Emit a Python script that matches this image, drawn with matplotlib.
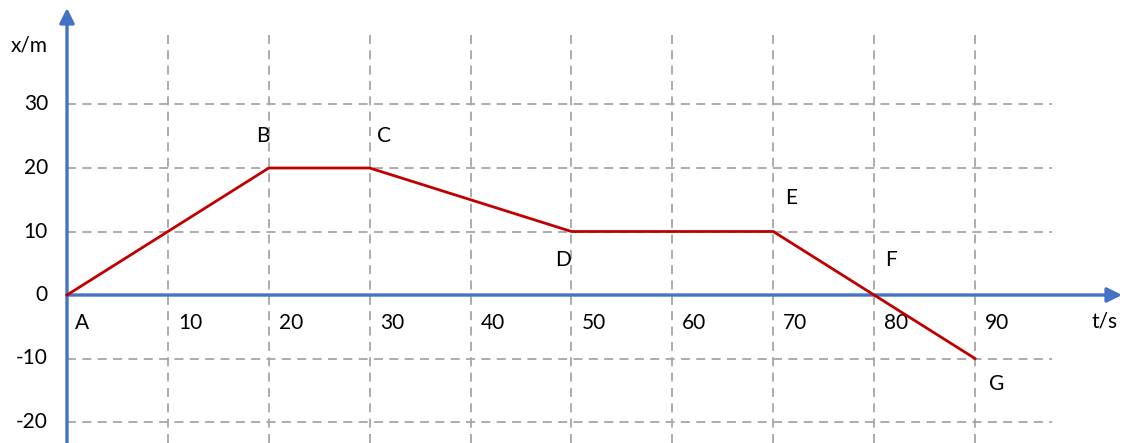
import matplotlib.pyplot as plt

# data
t = [0, 20, 30, 50, 70, 80, 90]
x = [0, 20, 20, 10, 10, 0, -10]
point_names = ["A", "B", "C", "D", "E", "F", "G"]
t_ticks = [10, 20, 30, 40, 50, 60, 70, 80, 90]
x_ticks = [30, 20, 10, 0, -10, -20]

plt.rcParams['font.family'] = ['Lato', 'DejaVu Sans']

fig = plt.figure(figsize=(11.3, 4.43), dpi=100)
ax = fig.add_axes([0, 0, 1, 1])
ax.set_axis_off()

# pixel scale of the original: t=0 at 67px, 10.09 px per second; x=0 at 295px, 6.35 px per metre
sx, sy = 10.089, 6.35
ax.set_xlim(-67 / sx, (1130 - 67) / sx)
ax.set_ylim(-(443 - 295) / sy, 295 / sy)

grid_kw = dict(color="#A6A6A6", lw=1.3, ls=(0, (5, 3.5)), zorder=1)
for tv in t_ticks:
    ax.plot([tv, tv], [-(443 - 295) / sy, (295 - 33) / sy], **grid_kw)
for xv in x_ticks:
    if xv != 0:
        ax.plot([0, (1052 - 67) / sx], [xv, xv], **grid_kw)

blue = "#4472C4"
arrow = dict(arrowstyle="-|>", color=blue, lw=2.4, mutation_scale=22, shrinkA=0, shrinkB=0)
ax.annotate("", xy=((1122 - 67) / sx, 0), xytext=(0, 0), arrowprops=arrow, zorder=3)
ax.annotate("", xy=(0, (295 - 8) / sy), xytext=(0, -(443 - 295) / sy), arrowprops=arrow, zorder=3)

ax.plot(t, x, color="#C00000", lw=2.0, zorder=4, solid_joinstyle="miter")

fs = 15
for xv in x_ticks:
    ax.annotate(str(xv), xy=(0, xv), xytext=(-19, 0), textcoords="offset pixels",
                ha="right", va="center", fontsize=fs)
for tv in t_ticks:
    ax.annotate(str(tv), xy=(tv, 0), xytext=(10, -28), textcoords="offset pixels",
                ha="left", va="center", fontsize=fs)

ax.annotate("x/m", xy=(0, (295 - 45) / sy), xytext=(-38, 0), textcoords="offset pixels",
            ha="center", va="center", fontsize=fs)
ax.text((1105 - 67) / sx, -(322 - 295) / sy, "t/s", ha="center", va="center", fontsize=fs)

offsets = [(15, -28), (-6, 32), (14, 32), (-8, -29), (18, 33), (17, 35), (22, -25)]
for name, tv, xv, off in zip(point_names, t, x, offsets):
    ax.annotate(name, xy=(tv, xv), xytext=off, textcoords="offset pixels",
                ha="center", va="center", fontsize=fs)

fig.savefig("out.png", dpi=100)
